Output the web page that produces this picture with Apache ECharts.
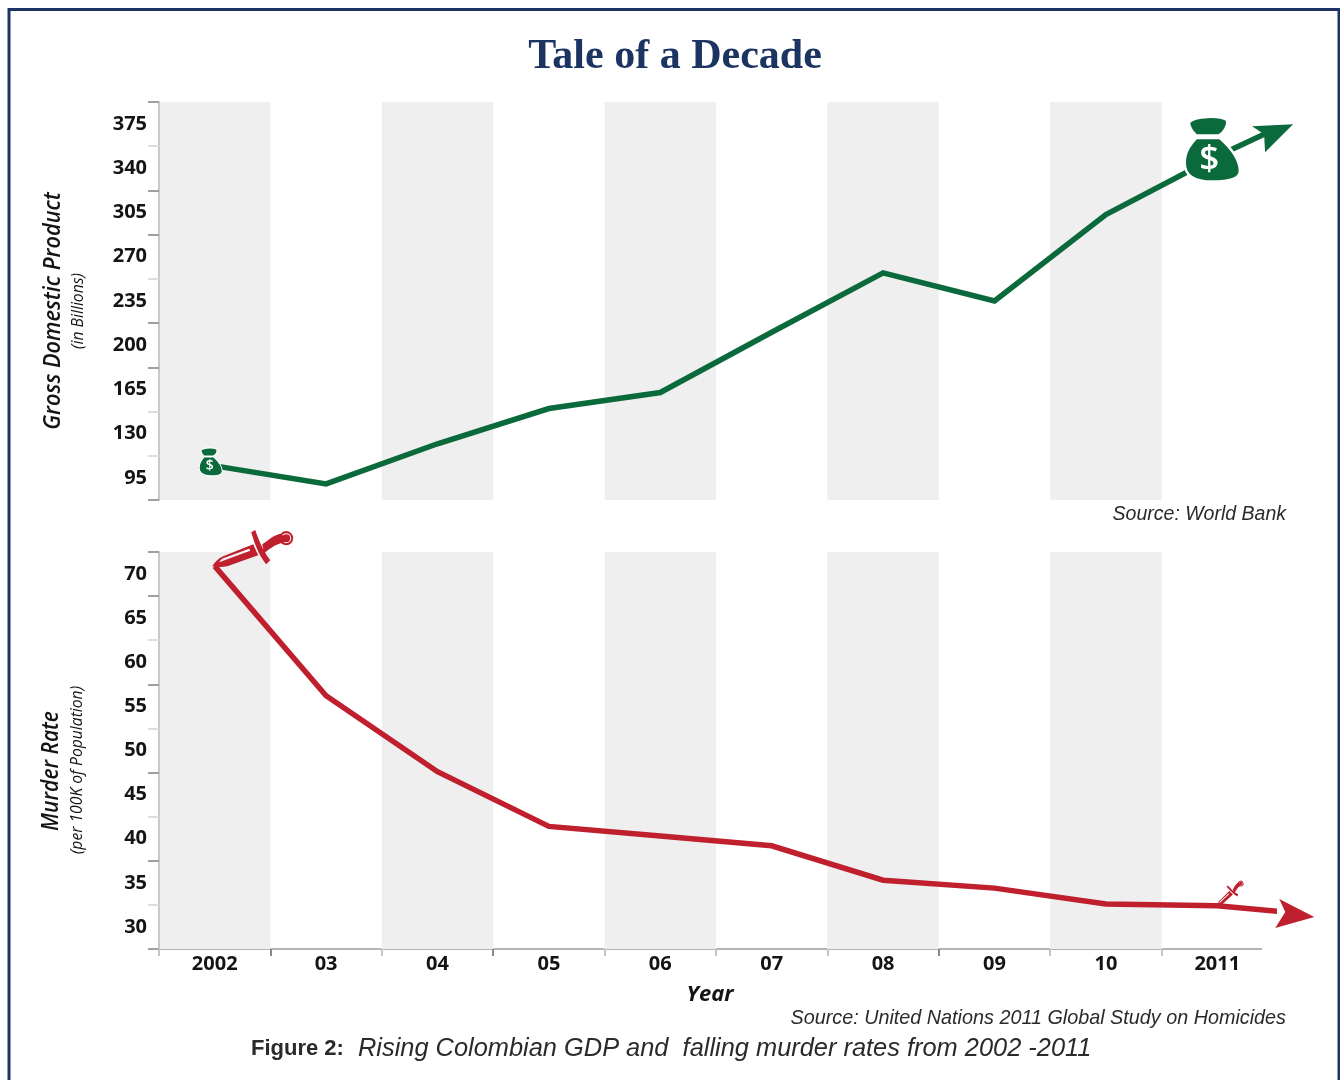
<!DOCTYPE html>
<html>
<head>
<meta charset="utf-8">
<title>Tale of a Decade</title>
<script src="https://cdn.jsdelivr.net/npm/echarts@6/dist/echarts.min.js"></script>
<style>
    html, body { margin: 0; padding: 0; background: #fff; }
    #chart { width: 1340px; height: 1080px; }
</style>
</head>
<body>
<div id="chart"></div>
<script>
const years = ['2002', '03', '04', '05', '06', '07', '08', '09', '10', '2011'];

const gdpValues = [104.5, 90.2, 122, 149.9, 162.6, 210.3, 257.3, 235, 303.4, 349.6];
const murderValues = [70.9, 56.2, 47.6, 41.4, 40.3, 39.2, 35.3, 34.4, 32.6, 32.4];

// where each arrow shaft runs out past 2011: [year position, value]
const gdpArrowEnd = [9.92, 367];
const murderArrowEnd = [10.11, 31.7];

const gdpLabels = [95, 130, 165, 200, 235, 270, 305, 340, 375];
const murderLabels = [30, 35, 40, 45, 50, 55, 60, 65, 70];

// the printed ticks fall between the labels, some dark and some faint
const gdpDarkTicks = [77.5, 182.5, 217.5, 287.5, 322.5, 392.5];
const gdpFaintTicks = [112.5, 147.5, 252.5, 357.5];
const murderDarkTicks = [27.5, 37.5, 47.5, 57.5, 67.5, 72.5];
const murderFaintTicks = [32.5, 42.5, 52.5, 62.5];
const yearDarkTicks = [1, 3, 7];
const yearFaintTicks = [0, 2, 4, 5, 6, 8, 9];

const GREEN = '#0b6a3b';
const RED = '#c01f2e';
const NAVY = '#1b3461';
const INK = '#141414';

const BAG = 'path://M4 5C10 -1 32 -2 40 3C41 9 37 15 32 18L11 18C7 14 4 10 4 5Z'
    + 'M11 20L33 20C42 28 52 40 52 52C52 59 42 62 26 62C10 62 0 57 0 44C0 32 6 26 11 20Z';
const DAGGER = 'path://M0 36C4 30 8 27 11 26L41 14L46 25L15 36C10 37 5 37 0 36Z'
    + 'M7 32L38 20.500L37 18.500L11 28C9 29 8 30 7 32Z'
    + 'M39 2L43 0C46 8 50 20 58 30L54 34C46 24 42 12 39 2Z'
    + 'M50 14C54 12 60 5 70 3L72 12C62 14 56 20 52 23Z'
    + 'M67 8A7 7 0 1 1 81 8A7 7 0 1 1 67 8Z'
    + 'M69 8A5 5 0 1 0 79 8A5 5 0 1 0 69 8Z'
    + 'M70 8A4 4 0 1 1 78 8A4 4 0 1 1 70 8Z';
const GDP_ARROW = 'path://M41 0L0 2L12 10L13 28Z';
const MURDER_ARROW = 'path://M39 18L4 0L10 13L0 29Z';

const none = { show: false };

const bagPoint = (point, size, offset, border, dollarSize, dollarOffset) => ({
    value: point,
    symbol: BAG,
    symbolSize: size,
    symbolOffset: offset,
    itemStyle: { color: GREEN, borderColor: '#fff', borderWidth: border },
    label: {
        show: true,
        position: 'inside',
        offset: dollarOffset,
        formatter: '$',
        color: '#fff',
        fontFamily: 'Open Sans',
        fontWeight: 600,
        fontSize: dollarSize,
    },
});

const gdpPoints = gdpValues.map((v, i) => [i + 0.5, v]);
const murderPoints = murderValues.map((v, i) => [i + 0.5, v]);

const gdpData = [...gdpPoints, gdpArrowEnd];
gdpData[0] = bagPoint(gdpPoints[0], [23, 28], [-4, -4], 1, 14, [-1, 4]);
gdpData[9] = bagPoint(gdpPoints[9], [55, 65], [-5, -7], 2.5, 35, [-3, 11]);
gdpData[10] = {
    value: gdpArrowEnd,
    symbol: GDP_ARROW,
    symbolSize: [41, 28],
    symbolOffset: [8.5, 4],
    itemStyle: { color: GREEN },
};

const murderData = [...murderPoints, murderArrowEnd];
murderData[0] = {
    value: murderPoints[0],
    symbol: DAGGER,
    symbolSize: [81, 37],
    symbolOffset: [38, -17.5],
    itemStyle: { color: RED },
};
murderData[9] = {
    value: murderPoints[9],
    symbol: DAGGER,
    symbolSize: [33, 15],
    symbolRotate: 23,
    symbolOffset: [12.5, -13],
    itemStyle: { color: RED },
};
murderData[10] = {
    value: murderArrowEnd,
    symbol: MURDER_ARROW,
    symbolSize: [39, 29],
    symbolOffset: [9.5, 1.5],
    itemStyle: { color: RED },
};

const lineSeries = (gridIndex, data, color) => ({
    type: 'line',
    xAxisIndex: gridIndex * 3 + 1,
    yAxisIndex: gridIndex * 2,
    data,
    symbol: 'none',
    showAllSymbol: true,
    clip: false,
    silent: true,
    animation: false,
    lineStyle: { color, width: 5.5, cap: 'butt', join: 'miter' },
    emphasis: { disabled: true },
});

// category axis carries the shaded bands and the year labels, two value axes place the ticks
const xAxesFor = (gridIndex, showLabels) => [
    {
        type: 'category',
        gridIndex,
        data: years,
        axisLine: none,
        axisTick: none,
        splitLine: none,
        splitArea: { show: true, interval: 0, areaStyle: { color: ['#efefef', 'rgba(255,255,255,0)'] } },
        axisLabel: {
            show: showLabels,
            interval: 0,
            margin: 5,
            color: INK,
            fontFamily: 'Open Sans',
            fontWeight: 700,
            fontSize: 20,
        },
    },
    {
        type: 'value',
        gridIndex,
        min: 0,
        max: 10,
        position: 'bottom',
        axisLine: none,
        splitLine: none,
        axisLabel: none,
        axisTick: showLabels
            ? { show: true, length: 7, customValues: yearFaintTicks, lineStyle: { color: '#c4c4c4', width: 2 } }
            : none,
    },
    {
        type: 'value',
        gridIndex,
        min: 0,
        max: 10,
        position: 'bottom',
        axisLine: none,
        splitLine: none,
        axisLabel: none,
        axisTick: showLabels
            ? { show: true, length: 7, customValues: yearDarkTicks, lineStyle: { color: '#8a8a8a', width: 2 } }
            : none,
    },
];

const yAxesFor = (gridIndex, min, max, labels, darkTicks, faintTicks, labelPadding) => [
    {
        type: 'value',
        gridIndex,
        position: 'left',
        min,
        max,
        splitLine: none,
        axisLine: { show: true, lineStyle: { color: '#c9c9c9', width: 2 } },
        axisTick: { show: true, length: 11, customValues: darkTicks, lineStyle: { color: '#a0a0a0', width: 2 } },
        axisLabel: {
            customValues: labels,
            margin: 12,
            padding: labelPadding,
            color: INK,
            fontFamily: 'Open Sans',
            fontWeight: 700,
            fontSize: 20,
        },
    },
    {
        type: 'value',
        gridIndex,
        position: 'left',
        min,
        max,
        splitLine: none,
        axisLine: none,
        axisLabel: none,
        axisTick: { show: true, length: 11, customValues: faintTicks, lineStyle: { color: '#dedede', width: 2 } },
    },
];

const sideText = (x, y, text, font, squeeze) => ({
    type: 'text',
    x,
    y,
    rotation: Math.PI / 2,
    scaleX: squeeze,
    silent: true,
    style: { text, font, fill: INK, align: 'center', verticalAlign: 'middle' },
});

const plainText = (x, y, text, font, align, fill) => ({
    type: 'text',
    x,
    y,
    silent: true,
    style: { text, font, fill: fill || INK, align, verticalAlign: 'middle' },
});

const option = {
    animation: false,
    backgroundColor: '#fff',
    grid: [
        { left: 159, top: 102, width: 1114, height: 398, containLabel: false },
        { left: 159, top: 552, width: 1114, height: 397, containLabel: false },
    ],
    xAxis: [...xAxesFor(0, false), ...xAxesFor(1, true)],
    yAxis: [
        ...yAxesFor(0, 77.5, 392.5, gdpLabels, gdpDarkTicks, gdpFaintTicks, [0, 0, 4, 0]),
        ...yAxesFor(1, 27.5, 72.5, murderLabels, murderDarkTicks, murderFaintTicks, 0),
    ],
    series: [
        lineSeries(0, gdpData, GREEN),
        lineSeries(1, murderData, RED),
    ],
    graphic: {
        elements: [
            {
                type: 'rect',
                silent: true,
                shape: { x: 9, y: 9.5, width: 1330, height: 1100 },
                style: { fill: 'none', stroke: NAVY, lineWidth: 3 },
            },
            // the x axis line stops short of the last band
            {
                type: 'line',
                silent: true,
                shape: { x1: 159, y1: 949, x2: 1262, y2: 949 },
                style: { stroke: '#b4b4b4', lineWidth: 2 },
            },
            plainText(675, 57, 'Tale of a Decade', 'bold 42px "Liberation Serif"', 'center', NAVY),
            sideText(53, 311, 'Gross Domestic Product', 'italic 600 24px "Open Sans"', 0.908),
            sideText(78, 311, '(in Billions)', 'italic 16px "Open Sans"', 0.98),
            sideText(51, 771, 'Murder Rate', 'italic 600 24px "Open Sans"', 0.875),
            sideText(77, 770, '(per 100K of Population)', 'italic 16px "Open Sans"', 0.98),
            plainText(1286, 515, 'Source: World Bank', 'italic 19.500px "Liberation Sans"', 'right', '#2a2a2a'),
            plainText(710, 995, 'Year', 'italic 700 22px "Open Sans"', 'center'),
            plainText(1286, 1018, 'Source: United Nations 2011 Global Study on Homicides', 'italic 19.800px "Liberation Sans"', 'right', '#2a2a2a'),
            {
                type: 'text',
                x: 251,
                y: 1049,
                silent: true,
                style: {
                    text: '{b|Figure 2:}{i|  Rising Colombian GDP and  falling murder rates from 2002 -2011}',
                    verticalAlign: 'middle',
                    rich: {
                        b: { font: 'bold 22px "Liberation Sans"', fill: '#2a2a2a' },
                        i: { font: 'italic 25.400px "Liberation Sans"', fill: '#2a2a2a' },
                    },
                },
            },
        ],
    },
};

const chart = echarts.init(document.getElementById('chart'), null, { renderer: 'canvas' });
chart.setOption(option);
</script>
</body>
</html>
